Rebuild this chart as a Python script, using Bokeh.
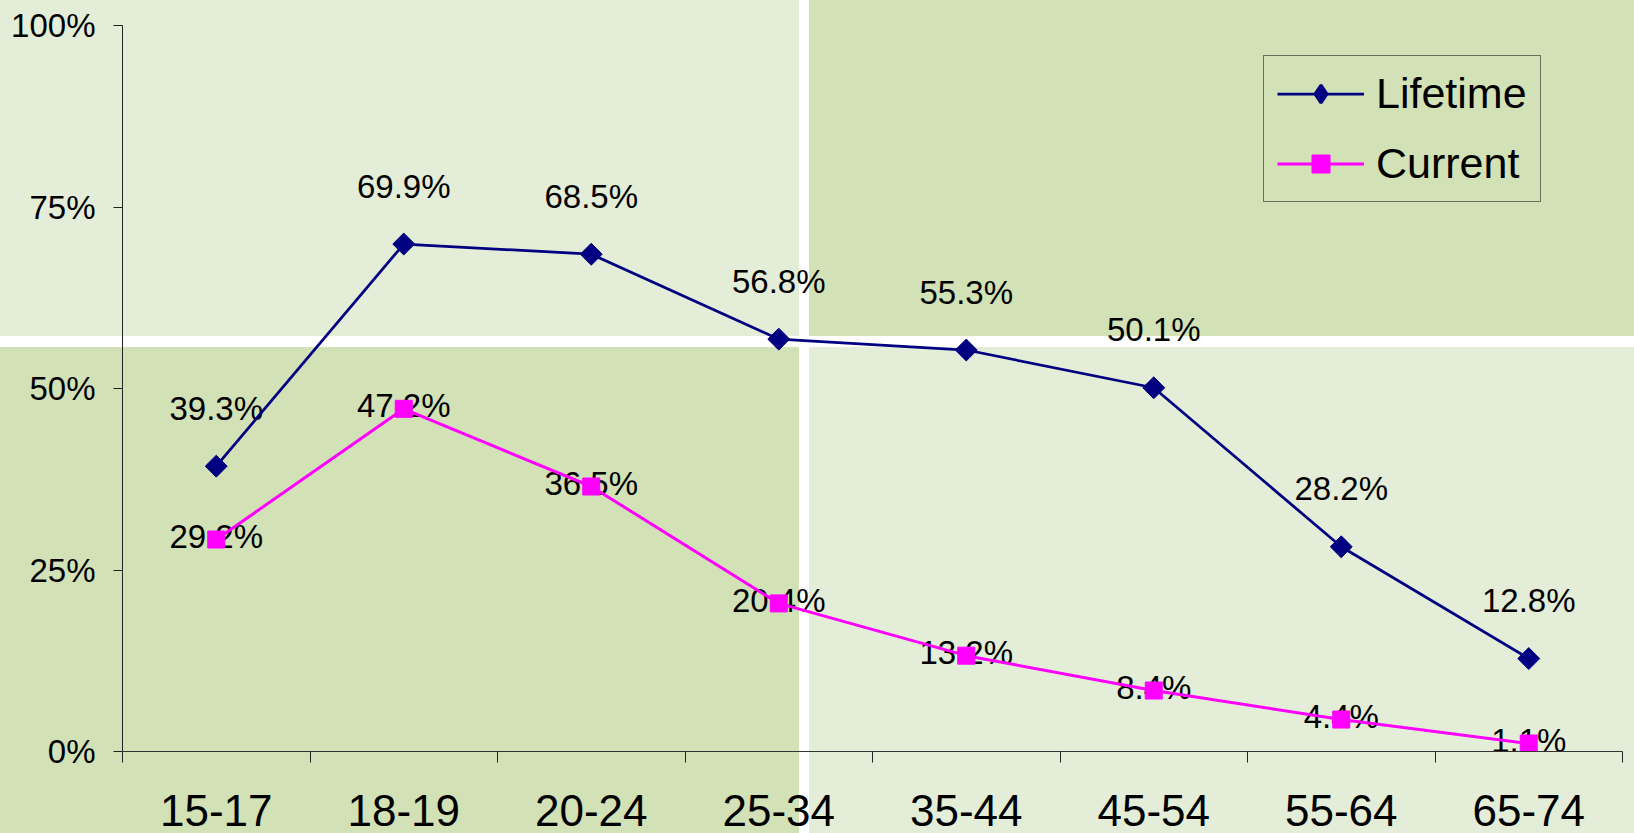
from bokeh.plotting import figure
from bokeh.models import (ColumnDataSource, FixedTicker, LinearAxis, Range1d,
                          Legend, LegendItem, PrintfTickFormatter)
from bokeh.core.properties import value
from bokeh.embed import file_html
from bokeh.resources import INLINE
import math

categories = ["15-17", "18-19", "20-24", "25-34", "35-44", "45-54", "55-64", "65-74"]
lifetime = [39.3, 69.9, 68.5, 56.8, 55.3, 50.1, 28.2, 12.8]
current = [29.2, 47.2, 36.5, 20.4, 13.2, 8.4, 4.4, 1.1]
y_ticks = [0, 25, 50, 75, 100]

FONT = "Liberation Sans"
LIGHT = "#E4EDD7"
DARK = "#D2E1B6"
NAVY = "#000080"
MAGENTA = "#FF00FF"

W, H = 1634, 833
x = [i + 0.5 for i in range(len(categories))]

# quadrant background (white cross dividing light/dark green panels)
BG = (f"linear-gradient(#ffffff,#ffffff) 799px 0px / 10px 100% no-repeat, "
      f"linear-gradient(#ffffff,#ffffff) 0px 336px / 100% 11px no-repeat, "
      f"linear-gradient({DARK},{DARK}) 809px 0px / 830px 336px no-repeat, "
      f"linear-gradient({DARK},{DARK}) 0px 347px / 799px 490px no-repeat, "
      f"{LIGHT}")

p = figure(width=W, height=H, output_backend="svg", toolbar_location=None,
           x_range=Range1d(0, len(categories)), y_range=Range1d(0, 100),
           x_axis_type=None, y_axis_type=None,
           min_border_left=122, min_border_right=12, min_border_top=25, min_border_bottom=82,
           background_fill_alpha=0, border_fill_alpha=0, outline_line_color=None,
           styles={"background": BG})

yaxis = LinearAxis(ticker=FixedTicker(ticks=y_ticks, minor_ticks=[]),
                   formatter=PrintfTickFormatter(format="%d%%"),
                   axis_line_color="#222222", major_tick_line_color="#222222",
                   major_tick_out=9, major_tick_in=0, minor_tick_out=0, minor_tick_in=0,
                   major_label_standoff=18, major_label_text_font=FONT,
                   major_label_text_font_size="33px", major_label_text_color="black")
p.add_layout(yaxis, "left")

xaxis = LinearAxis(ticker=FixedTicker(ticks=x, minor_ticks=list(range(len(categories) + 1))),
                   major_label_overrides={xi: c for xi, c in zip(x, categories)},
                   axis_line_color="#333333", major_tick_out=0, major_tick_in=0,
                   minor_tick_line_color="#222222", minor_tick_out=11, minor_tick_in=0,
                   major_label_standoff=32, major_label_text_font=FONT,
                   major_label_text_font_size="44px", major_label_text_color="black")
p.add_layout(xaxis, "below")

src = ColumnDataSource(dict(x=x, lifetime=lifetime, current=current,
                            lt_lbl=[f"{v:.1f}%" for v in lifetime],
                            cur_lbl=[f"{v:.1f}%" for v in current]))

p.text(x="x", y="lifetime", text="lt_lbl", source=src, text_align="center",
       text_baseline="middle", y_offset=-58, text_font=value(FONT),
       text_font_size="33px", text_color="black")
p.text(x="x", y="current", text="cur_lbl", source=src, text_align="center",
       text_baseline="middle", y_offset=-3, text_font=value(FONT),
       text_font_size="33px", text_color="black")

l1 = p.line("x", "lifetime", source=src, line_color=NAVY, line_width=2.75)
m1 = p.scatter("x", "lifetime", source=src, marker="square", angle=math.pi / 4, size=15.5,
               fill_color=NAVY, line_color=NAVY)
m1_leg = p.scatter("x", "lifetime", source=src, marker="diamond", size=22,
                   fill_color=NAVY, line_color=NAVY, line_width=3, visible=False)
l2 = p.line("x", "current", source=src, line_color=MAGENTA, line_width=3)
m2 = p.scatter("x", "current", source=src, marker="square", size=17,
               fill_color=MAGENTA, line_color=MAGENTA)

legend = Legend(items=[LegendItem(label="Lifetime", renderers=[l1, m1_leg]),
                       LegendItem(label="Current", renderers=[l2, m2])],
                location=(1141, 549), background_fill_alpha=0,
                border_line_color="black", border_line_width=1,
                label_text_font=FONT, label_text_font_size="43px",
                label_text_color="black",
                glyph_width=87, glyph_height=45, label_height=48,
                label_standoff=12, spacing=21, padding=13, margin=0)
p.add_layout(legend)

open("out.html", "w").write(file_html(p, INLINE))
